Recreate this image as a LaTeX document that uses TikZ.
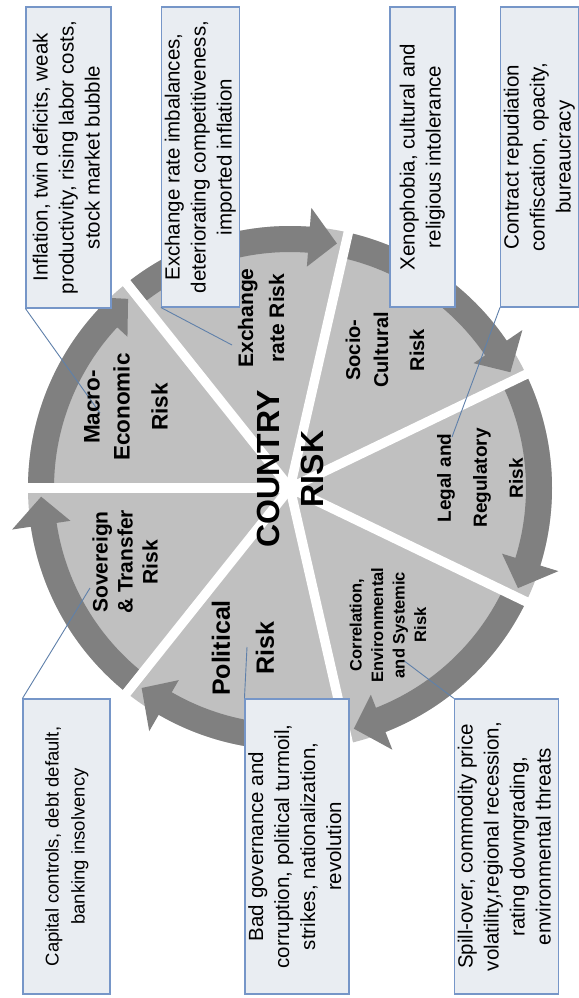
\documentclass[tikz,border=0pt]{standalone}
\usepackage{fontspec}
\setmainfont{Liberation Sans}
\usepackage{graphicx}
\definecolor{sectorc}{RGB}{192,192,192}
\definecolor{ringc}{RGB}{128,128,128}
\definecolor{boxfill}{RGB}{233,237,242}
\definecolor{boxdraw}{RGB}{118,150,200}
\definecolor{pointc}{RGB}{95,128,170}
\newcommand\ringarrow[3]{%
  \fill[ringc] (#1:262pt) arc[start angle=#1, end angle=#2, radius=262pt]
    -- (#2:281pt) -- (#3:249pt) -- (#2:222pt) -- (#2:236pt)
    arc[start angle=#2, end angle=#1, radius=236pt] -- cycle;}
\newcommand\rtext[1]{\rotatebox{90}{\begin{tabular}{@{}c@{}}#1\end{tabular}}}
\begin{document}
\begin{tikzpicture}[x=1pt,y=1pt,
  descbox/.style={draw=boxdraw, fill=boxfill, line width=1.1pt, inner sep=0pt,
    font=\fontsize{20.5}{26}\selectfont},
  seclabel/.style={rotate=90, align=center, inner sep=0pt},
  pointer/.style={draw=pointc, line width=0.9pt},
  gapline/.style={draw=white, line width=9.5pt}]
\useasboundingbox (0,0) rectangle (578,-998);
\fill[white] (0,0) rectangle (578,-998);
\coordinate (C) at (290,-488);
\begin{scope}[shift={(C)}]
  \fill[sectorc] (0,0) circle[radius=262pt];
  \ringarrow{179.5}{137.07}{130.57}
  \ringarrow{128.07}{85.64}{79.14}
  \ringarrow{76.64}{34.21}{27.71}
  \ringarrow{25.21}{-17.21}{-23.71}
  \ringarrow{-26.21}{-68.64}{-75.14}
  \ringarrow{-77.64}{-120.07}{-126.57}
  \ringarrow{-129.07}{-171.5}{-178}
  \foreach \g in {180,128.571,77.143,25.714,-25.714,-77.143,-128.571}
    \draw[gapline] (0,0) -- (\g:276pt);
\end{scope}

% description boxes (top)
\node[descbox, minimum width=85pt, minimum height=301pt] (b1) at (68.5,-157.5)
  {\rtext{Inflation, twin deficits, weak\\productivity, rising labor costs,\\stock market bubble}};
\node[descbox, minimum width=75pt, minimum height=300pt] (b2) at (200.5,-157)
  {\rtext{Exchange rate imbalances,\\deteriorating competitiveness,\\imported inflation}};
\node[descbox, minimum width=65pt, minimum height=300pt] (b3) at (422.5,-157)
  {\rtext{Xenophobia, cultural and\\religious intolerance}};
\node[descbox, minimum width=73pt, minimum height=300pt] (b4) at (539.5,-157)
  {\rtext{Contract repudiation\\confiscation, opacity,\\bureaucracy}};
% description boxes (bottom)
\node[descbox, minimum width=87pt, minimum height=295pt, font=\fontsize{18.5}{26}\selectfont] (c1) at (66.5,-846.5)
  {\rtext{Capital controls, debt default,\\banking insolvency}};
\node[descbox, minimum width=100pt, minimum height=295pt] (c2) at (297,-846.5)
  {\rtext{Bad governance and\\corruption, political turmoil,\\strikes, nationalization,\\revolution}};
\node[descbox, minimum width=103pt, minimum height=295pt] (c3) at (506.5,-846.5)
  {\rtext{Spill-over, commodity price\\volatility,regional recession,\\rating downgrading,\\environmental threats}};

% pointer lines
\coordinate (pm) at (100,-413);
\coordinate (px) at (232,-345);
\coordinate (pl) at (452,-437);
\coordinate (pc1) at (90,-588);
\coordinate (pc2) at (247,-647);
\coordinate (pc3) at (403,-660);
\draw[pointer] (b1.south west) -- (pm);
\draw[pointer] (b2.south west) -- (px);
\draw[pointer] (b4.south west) -- (pl);
\draw[pointer] (c1.north west) -- (pc1);
\draw[pointer] (c2.north west) -- (pc2);
\draw[pointer] (c3.north west) -- (pc3);

% sector labels
\node[seclabel, font=\bfseries\fontsize{22.5}{30}\selectfont] (lmac) at (126,-407) {Macro-\\Economic\\[8pt]Risk};
\node[seclabel, font=\bfseries\fontsize{21}{31}\selectfont] (lexc) at (261,-318) {Exchange\\rate Risk};
\node[seclabel, font=\bfseries\fontsize{20}{28}\selectfont] (lsoc) at (385,-350) {Socio-\\Cultural\\[8pt]Risk};
\node[seclabel, font=\bfseries\fontsize{19}{36}\selectfont] (lleg) at (480,-478) {Legal and\\Regulatory\\Risk};
\node[seclabel, font=\bfseries\fontsize{16.5}{21.5}\selectfont] (lcor) at (388,-625) {Correlation,\\Environmental\\and Systemic\\Risk};
\node[seclabel, font=\bfseries\fontsize{25}{44}\selectfont] (lpol) at (243,-648) {Political\\Risk};
\node[seclabel, font=\bfseries\fontsize{21}{25}\selectfont] (lsov) at (125,-562) {Sovereign\\\& Transfer\\Risk};
\node[seclabel, font=\bfseries\fontsize{32}{44}\selectfont] (lctr) at (290,-469) {COUNTRY\\RISK};
\end{tikzpicture}
\end{document}
